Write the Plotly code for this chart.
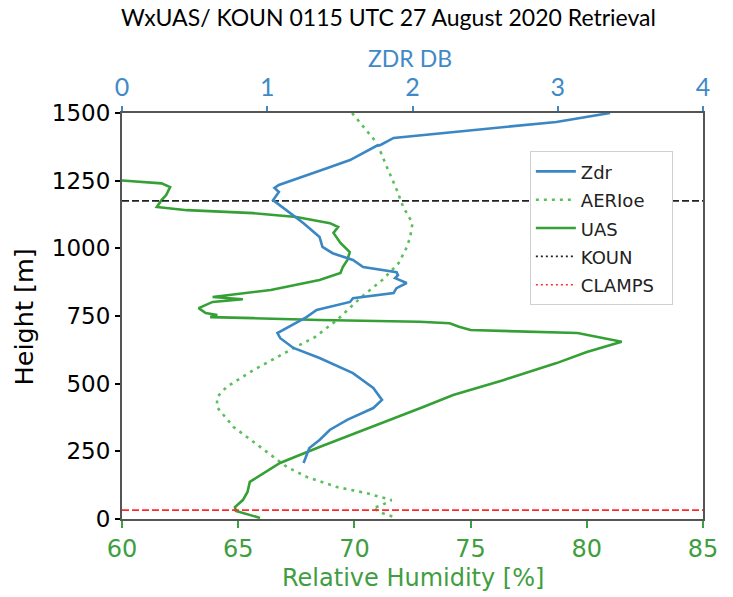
import plotly.graph_objects as go

# ---------------- data ----------------
zdr_height = [1500, 1467, 1408, 1382, 1378, 1326, 1296, 1263, 1234, 1223, 1208, 1178, 1149,
              1093, 1042, 1005, 982, 957, 931, 912, 901, 890, 872, 853, 835, 816, 802, 772,
              746, 698, 687, 668, 632, 595, 539, 484, 440, 410, 366, 329, 292, 262, 207]
zdr_db = [3.36, 2.99, 1.87, 1.78, 1.75, 1.57, 1.41, 1.23, 1.08, 1.05, 1.08, 1.04, 1.11,
          1.25, 1.36, 1.38, 1.45, 1.59, 1.66, 1.89, 1.90, 1.88, 1.96, 1.89, 1.87, 1.59, 1.57, 1.34,
          1.27, 1.11, 1.07, 1.09, 1.18, 1.36, 1.59, 1.73, 1.79, 1.73, 1.55, 1.43, 1.36, 1.29, 1.25]

aeri_height = [1500, 1389, 1300, 1215, 1153, 1093, 1042, 1005, 945, 883, 820, 735, 672, 632,
               550, 488, 451, 414, 340, 266, 192, 155, 118, 96, 70, 52, 40, 22, 4]
aeri_rh = [69.9, 70.97, 71.4, 71.83, 72.1, 72.5, 72.4, 72.26, 71.9, 71.2, 70.3, 69.25, 68.3, 67.4,
           65.65, 64.5, 64.1, 64.08, 64.8, 65.94, 67.1, 67.96, 69.25, 70.5, 71.6, 71.2, 70.8, 71.2, 71.8]

uas_height = [1254, 1240, 1226, 1197, 1178, 1153, 1141, 1130, 1116, 1093, 1079, 1057, 1020, 986,
              957, 931, 909, 883, 846, 827, 820, 812, 802, 779, 761, 754, 746, 742, 735, 729,
              723, 710, 698, 687, 674, 655, 617, 576, 513, 458, 414, 355, 266, 207, 137, 100,
              70, 44, 30, 4]
uas_rh = [59.5, 61.7, 62.07, 61.9, 61.7, 61.5, 62.8, 65.65, 67.5, 68.95, 69.3, 69.1, 69.4, 69.8,
          69.7, 69.5, 69.4, 68.5, 66.4, 64.65, 63.9, 65.2, 63.9, 63.3, 63.6, 64.1, 63.8, 65.65, 68.5, 72.8,
          74.1, 74.5, 75.0, 79.6, 80.4, 81.5, 80.0, 78.7, 76.4, 74.25, 72.96, 71.15, 68.5, 66.8, 65.5, 65.4,
          65.2, 64.86, 64.9, 65.94]

koun_height = 1175
clamps_height = 33

rh_range = [60, 85]
zdr_range = [0, 4]
height_range = [0, 1500]
rh_ticks = [60, 65, 70, 75, 80, 85]
zdr_ticks = [0, 1, 2, 3, 4]
height_ticks = [0, 250, 500, 750, 1000, 1250, 1500]

title_text = "WxUAS/ KOUN 0115 UTC 27 August 2020 Retrieval"
zdr_label = "ZDR DB"
rh_label = "Relative Humidity [%]"
height_label = "Height [m]"

# ---------------- style ----------------
BLUE = "#3b87c4"
BLUE_TXT = "#3f8ac6"
GREEN = "#35a035"
GREEN_DOT = "#5cbf5c"
GREEN_TXT = "#3f9e3f"
CAL = "Lato, 'Noto Sans', sans-serif"
DJV = "'DejaVu Sans', sans-serif"


def leg(name):
    return '<span style="font-size:18px">' + name + '</span>\u00a0\u00a0'


fig = go.Figure()

fig.add_trace(go.Scatter(x=zdr_db, y=zdr_height, xaxis="x2", yaxis="y", mode="lines",
                         name=leg("Zdr"), line=dict(color=BLUE, width=2.6)))
fig.add_trace(go.Scatter(x=aeri_rh, y=aeri_height, mode="lines", name=leg("AERIoe"),
                         line=dict(color=GREEN_DOT, width=2.6, dash="3px,5px")))
fig.add_trace(go.Scatter(x=uas_rh, y=uas_height, mode="lines", name=leg("UAS"),
                         line=dict(color=GREEN, width=2.6)))
# horizontal reference lines (drawn), legend entries separately with dotted style
fig.add_trace(go.Scatter(x=rh_range, y=[koun_height, koun_height], mode="lines", showlegend=False,
                         line=dict(color="#222222", width=1.8, dash="7px,3px"), hoverinfo="skip"))
fig.add_trace(go.Scatter(x=rh_range, y=[clamps_height, clamps_height], mode="lines", showlegend=False,
                         line=dict(color="#ff2a2a", width=1.8, dash="7px,3px"), hoverinfo="skip"))
fig.add_trace(go.Scatter(x=[None], y=[None], mode="lines", name=leg("KOUN"),
                         line=dict(color="#222222", width=1.6, dash="2px,3px")))
fig.add_trace(go.Scatter(x=[None], y=[None], mode="lines", name=leg("CLAMPS"),
                         line=dict(color="#ff2a2a", width=1.6, dash="2px,3px")))

fig.update_layout(
    width=733, height=597,
    margin=dict(l=122, r=30, t=113, b=78, autoexpand=False),
    paper_bgcolor="white", plot_bgcolor="white",
    showlegend=True,
    title=dict(text=title_text, x=0.53, xanchor="center", y=0.97, yanchor="middle",
               xref="container", yref="container",
               font=dict(family=CAL, size=23, color="black")),
    xaxis=dict(range=rh_range, tickvals=rh_ticks, ticks="outside", ticklen=7, tickwidth=1.5,
               tickcolor=GREEN_TXT, showline=True, linecolor="#555555", linewidth=2,
               showgrid=False, zeroline=False, automargin=False,
               tickfont=dict(family=DJV, size=24, color=GREEN_TXT)),
    xaxis2=dict(range=zdr_range, tickvals=zdr_ticks, overlaying="x", side="top", anchor="y",
                ticks="outside", ticklen=5, tickwidth=1.5, tickcolor=BLUE_TXT,
                showline=True, linecolor="#555555", linewidth=2, showgrid=False, zeroline=False,
                automargin=False,
                tickfont=dict(family=CAL, size=25, color=BLUE_TXT)),
    yaxis=dict(range=height_range, tickvals=height_ticks, ticks="outside", ticklen=5, tickwidth=1.5,
               tickcolor="black", showline=True, mirror=True, linecolor="#555555", linewidth=2,
               showgrid=False, zeroline=False, automargin=False,
               tickfont=dict(family=DJV, size=23, color="black")),
    legend=dict(x=0.702, y=0.906, xanchor="left", yanchor="top",
                bgcolor="white", bordercolor="#d0d0d0", borderwidth=1, itemwidth=40,
                font=dict(family=DJV, size=19.5, color="#222222"), tracegroupgap=0),
    annotations=[
        dict(text=zdr_label, xref="paper", yref="paper", x=0.496, y=1.136, xanchor="center",
             yanchor="middle", showarrow=False, font=dict(family=CAL, size=23, color=BLUE_TXT)),
        dict(text=rh_label, xref="paper", yref="paper", x=0.5, y=-0.145, xanchor="center",
             yanchor="middle", showarrow=False, font=dict(family=DJV, size=24, color=GREEN_TXT)),
        dict(text=height_label, xref="paper", yref="paper", x=-0.168, y=0.4975, xanchor="center",
             yanchor="middle", textangle=-90, showarrow=False,
             font=dict(family=DJV, size=25.5, color="black")),
    ],
)

fig.write_html("out.html", config={"displayModeBar": False},
               post_script="document.body.style.margin='0';document.body.style.padding='0';")
